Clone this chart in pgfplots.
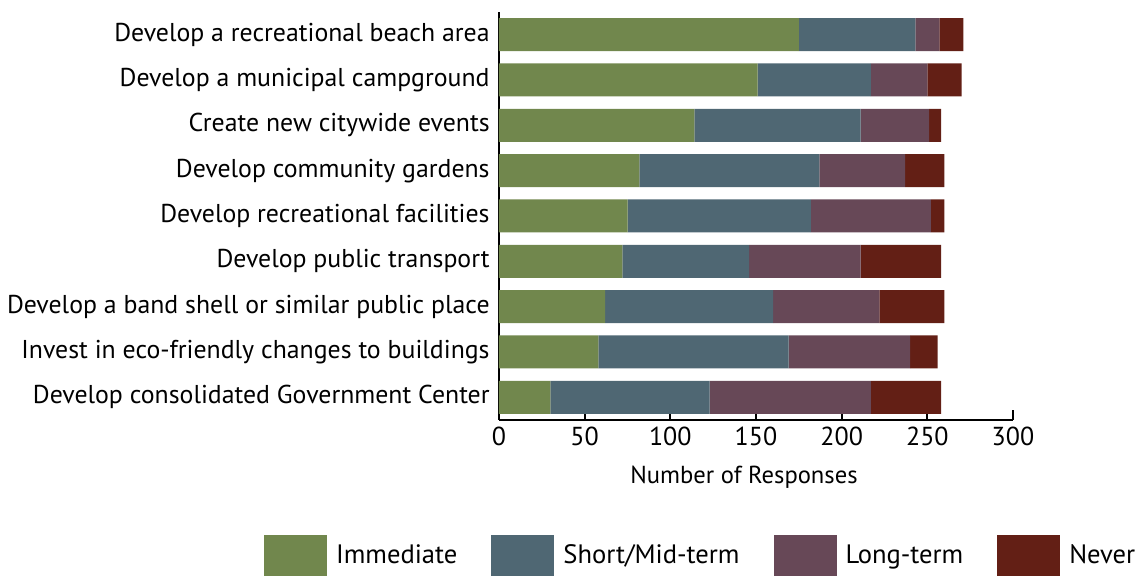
\documentclass[border=0pt]{standalone}
\usepackage{pgfplots}
\usepackage{pgfplotstable}
\pgfplotsset{compat=1.18}
\usetikzlibrary{calc}
\usepackage{fontspec}
\setmainfont{PT Sans}
\definecolor{imm}{HTML}{71874D}
\definecolor{mid}{HTML}{4F6773}
\definecolor{lng}{HTML}{674857}
\definecolor{nev}{HTML}{631F15}

\pgfplotstableread{
y imm mid lng nev
0 30 93 94 41
1 58 111 71 16
2 62 98 62 38
3 72 74 65 47
4 75 107 70 8
5 82 105 50 23
6 114 97 40 7
7 151 66 33 20
8 175 68 14 14
}\responses

\begin{document}
\begin{tikzpicture}
\begin{axis}[
  scale only axis,
  width=257pt, height=204pt,
  xbar stacked,
  bar width=16.5pt,
  xmin=0, xmax=300,
  ymin=-0.5, ymax=8.5,
  axis x line=bottom,
  axis y line=left,
  axis line style={-, line width=1pt},
  xtick={0,50,...,300},
  xtick align=inside,
  major tick length=5pt,
  xtick style={line width=1pt, black},
  ytick=data,
  ytick style={draw=none},
  yticklabels={
    Develop consolidated Government Center,
    Invest in eco-friendly changes to buildings,
    Develop a band shell or similar public place,
    Develop public transport,
    Develop recreational facilities,
    Develop community gardens,
    Create new citywide events,
    Develop a municipal campground,
    Develop a recreational beach area},
  yticklabel style={font=\fontsize{12.9}{15}\selectfont, inner sep=2pt},
  xticklabel style={font=\fontsize{13}{15}\selectfont},
  /pgf/number format/assume math mode=true,
  xlabel={Number of Responses},
  xlabel style={font=\fontsize{12.3}{14}\selectfont, yshift=-3pt, xshift=-6pt},
  legend columns=4,
  legend style={
    at={(-0.457,-0.382)}, anchor=south west,
    draw=none, fill=none,
    font=\fontsize{13.3}{15}\selectfont,
    inner sep=0pt, outer sep=0pt,
    /tikz/every even column/.append style={column sep=15pt},
  },
  legend cell align=left,
  legend image code/.code={
    \fill[#1] (0pt,-10pt) rectangle (31.5pt,10.5pt);
    \path (34pt,0pt);
  },
]
  \addplot[fill=imm, draw=none] table[x=imm, y=y] {\responses};
  \addplot[fill=mid, draw=none] table[x=mid, y=y] {\responses};
  \addplot[fill=lng, draw=none] table[x=lng, y=y] {\responses};
  \addplot[fill=nev, draw=none] table[x=nev, y=y] {\responses};
  \legend{Immediate, Short/Mid-term, Long-term, Never}
  \coordinate (bl) at (rel axis cs:0,0);
  \coordinate (tr) at (rel axis cs:1,1);
\end{axis}
\pgfresetboundingbox
\path ($(bl)+(-249.5pt,-78pt)$) rectangle ($(tr)+(65pt,6pt)$);
\end{tikzpicture}
\end{document}
